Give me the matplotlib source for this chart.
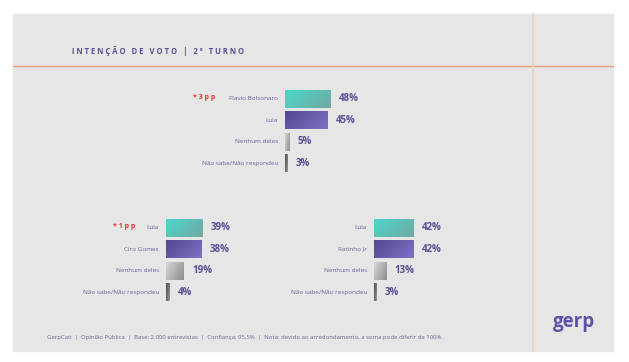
import numpy as np
import matplotlib.pyplot as plt
from matplotlib.colors import LinearSegmentedColormap

plt.rcParams['font.family'] = ['Open Sans', 'DejaVu Sans']

# data
cats1 = ["Flavio Bolsonaro", "Lula", "Nenhum deles", "Não sabe/Não respondeu"]
vals1 = [48, 45, 5, 3]
cats2 = ["Lula", "Ciro Gomes", "Nenhum deles", "Não sabe/Não respondeu"]
vals2 = [39, 38, 19, 4]
cats3 = ["Lula", "Ratinho Jr", "Nenhum deles", "Não sabe/Não respondeu"]
vals3 = [42, 42, 13, 3]
notes = ["*3pp", "*1pp", None]

W, H = 629, 362
fig = plt.figure(figsize=(W / 100, H / 100), dpi=100)
fig.patch.set_facecolor("white")

# slide background
bg = fig.add_axes([0, 0, 1, 1])
bg.set_xlim(0, W)
bg.set_ylim(H, 0)
bg.axis("off")
bg.add_patch(plt.Rectangle((13, 14), 600, 337, color="#e6e6e6", zorder=0))
bg.plot([13, 613], [66, 66], color="#e9a27c", lw=1)
bg.plot([533, 533], [14, 351], color="#f2cfb4", lw=1.2)

title = "   ".join(" ".join(w) for w in "INTENÇÃO DE VOTO | 2º TURNO".split(" "))
bg.text(72, 51, title, fontsize=5.5, fontweight="bold", color="#5a4e96", va="center")
bg.text(47, 337, "GerpCati  |  Opinião Pública  |  Base: 2.000 entrevistas  |  Confiança: 95,5%  |  "
        "Nota: devido ao arredondamento, a soma pode diferir de 100%.",
        fontsize=4.3, color="#6a6390", va="center")
bg.text(574, 322, "gerp", fontsize=13.5, fontweight="bold", color="#5f52a6", va="center", ha="center")

grads = [
    LinearSegmentedColormap.from_list("t", ["#4ad8c9", "#72a8a4"]),
    LinearSegmentedColormap.from_list("p", ["#53478f", "#7f72c6"]),
    LinearSegmentedColormap.from_list("g", ["#d6d6d6", "#8c8c8c"]),
    LinearSegmentedColormap.from_list("d", ["#4a4a4a", "#9a9a9a"]),
]

def chart(left, top, cats, vals, note, note_dx):
    px = 0.94
    row = 21.5
    ax = fig.add_axes([left / W, 1 - (top + 4 * row) / H, 100 * px / W, 4 * row / H])
    ax.axis("off")
    h = 0.82
    grad = np.add.outer(np.linspace(0, 0.5, 20), np.linspace(0, 1, 60))
    for i, (c, v) in enumerate(zip(cats, vals)):
        ax.imshow(grad, cmap=grads[i], extent=[0, v, i + h / 2, i - h / 2],
                  aspect="auto", interpolation="bilinear", vmin=0, vmax=1.5)
        ax.annotate(f"{v}%", (v, i), xytext=(6, 0), textcoords="offset points",
                    fontsize=7, fontweight="bold", color="#5a4e96", va="center")
        ax.annotate(c, (0, i), xytext=(-5, 0), textcoords="offset points",
                    fontsize=4.6, color="#6a5fa0", va="center", ha="right")
    ax.set_xlim(0, 100)
    ax.set_ylim(3.5, -0.5)
    if note:
        ax.annotate(" ".join(note), (0, 0), xytext=(note_dx, 1), textcoords="offset points",
                    fontsize=5, fontweight="bold", color="#e8322c", va="center", ha="right")

chart(285, 88, cats1, vals1, notes[0], -50)
chart(166, 217, cats2, vals2, notes[1], -22)
chart(374, 217, cats3, vals3, notes[2], 0)

fig.savefig("out.png", dpi=100)
